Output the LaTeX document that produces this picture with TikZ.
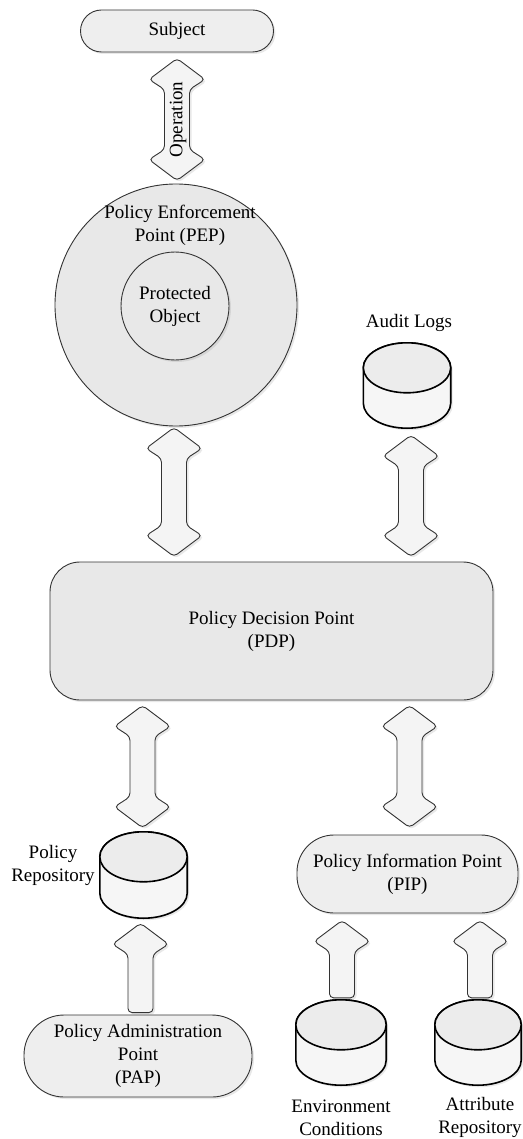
\documentclass[tikz,border=0pt]{standalone}
\usepackage{fontspec}
\setmainfont{Liberation Serif}
\usetikzlibrary{calc,shadows}
\definecolor{boxfill}{HTML}{E8E8E8}
\definecolor{pillfill}{HTML}{EEEEEE}
\definecolor{arrfill}{HTML}{F4F4F4}
\definecolor{cylbody}{HTML}{F6F6F6}
\definecolor{cyltop}{HTML}{ECECEC}
\definecolor{edge}{HTML}{333333}
\tikzset{
  txt/.style={font=\fontsize{19}{23}\selectfont, align=center, inner sep=0pt},
  shade/.style={drop shadow={opacity=0.18, shadow xshift=2pt, shadow yshift=-2pt}},
  pill/.style={txt, draw=edge, line width=0.9pt, fill=pillfill, shade},
  bigbox/.style={txt, draw=edge, line width=0.9pt, fill=boxfill, shade},
  ring/.style={circle, draw=edge, line width=0.9pt, fill=boxfill, shade, inner sep=0pt},
  cylslot/.style={rectangle, inner sep=0pt},
  cylline/.style={draw=black, line width=1.6pt},
  blockarrow/.style={draw=edge, line width=0.9pt, fill=arrfill, rounded corners=4pt, shade},
}
% vertical double block arrow between two coordinates (top, bottom)
\newcommand\vdblarrow[2]{%
  \path[blockarrow] let \p1=(#1), \p2=(#2) in
    (\x1,\y1) -- (\x1+28,\y1-21) -- (\x1+12.5,\y1-31) -- (\x1+12.5,\y2+31)
    -- (\x1+28,\y2+21) -- (\x1,\y2) -- (\x1-28,\y2+21) -- (\x1-12.5,\y2+31)
    -- (\x1-12.5,\y1-31) -- (\x1-28,\y1-21) -- cycle;}
% vertical single block arrow pointing up from #2 (bottom) to #1 (top)
\newcommand\vuparrow[2]{%
  \path[blockarrow] let \p1=(#1), \p2=(#2) in
    (\x1,\y1) -- (\x1+28,\y1-21) -- (\x1+12.5,\y1-31) -- (\x1+12.5,\y2)
    -- (\x1-12.5,\y2) -- (\x1-12.5,\y1-31) -- (\x1-28,\y1-21) -- cycle;}
% cylinder drawn into the bounds of a named slot node
\newcommand\cylinderin[1]{%
  \path[cylline, fill=cylbody, shade] let \p1=(#1.north west), \p2=(#1.south east),
      \n1={(\x2-\x1)/2} in
    (\x1,\y1-25) -- (\x1,\y2+25)
    arc[start angle=180, end angle=360, x radius=\n1, y radius=25pt]
    -- (\x2,\y1-25)
    arc[start angle=0, end angle=180, x radius=\n1, y radius=25pt] -- cycle;
  \path[cylline, fill=cyltop] let \p1=(#1.north west), \p2=(#1.south east),
      \n1={(\x2-\x1)/2} in
    ($(#1.north)+(0,-25)$) ellipse [x radius=\n1, y radius=25pt];}
\begin{document}
\begin{tikzpicture}[x=1pt, y=1pt]
\useasboundingbox (0,0) rectangle (522,-1139);

% Subject
\node[pill, rounded corners=21pt, minimum width=193pt, minimum height=42pt] (subject) at (177,-31) {Subject};

% PEP
\node[ring, minimum size=242pt] (pep) at (176,-305) {};
\node[ring, minimum size=108pt, txt] (obj) at (175,-306) {Protected\\Object};
\node[txt] (peplabel) at (180,-225) {Policy Enforcement\\Point (PEP)};

% Operation arrow
\coordinate (op1) at ($(subject.south)+(0,-6)$);
\coordinate (op2) at ($(subject.south |- pep.north)+(0,3)$);
\vdblarrow{op1}{op2}
\node[txt, rotate=90] (oplabel) at ($(op1)!0.5!(op2)+(1,0)$) {Operation};

% Audit logs
\node[txt] (auditlabel) at (409,-323) {Audit Logs};
\node[cylslot, minimum width=87pt, minimum height=85pt] (audit) at (407,-385.5) {};
\cylinderin{audit}

% PDP
\node[bigbox, rounded corners=30pt, minimum width=443pt, minimum height=138pt] (pdp) at (271.5,-631) {Policy Decision Point\\(PDP)};

% PEP <-> PDP, Audit <-> PDP
\coordinate (a1) at ($(pep.south)+(-2,-1)$);
\coordinate (a2) at ($(pep.south |- pdp.north)+(-2,5)$);
\vdblarrow{a1}{a2}
\coordinate (b1) at ($(audit.south)+(4,-7)$);
\coordinate (b2) at ($(audit.south |- pdp.north)+(4,5)$);
\vdblarrow{b1}{b2}

% Policy repository
\node[cylslot, minimum width=87pt, minimum height=86pt] (repo) at (143.5,-875) {};
\node[txt] (repolabel) at (53,-865) {Policy\\Repository};

% PIP
\node[pill, rounded corners=37pt, minimum width=221pt, minimum height=78pt] (pip) at (407.5,-874) {Policy Information Point\\(PIP)};

% PDP <-> repository, PDP <-> PIP
\coordinate (c1) at ($(repo.north |- pdp.south)+(-1,-5)$);
\coordinate (c2) at ($(repo.north)+(-1,4)$);
\vdblarrow{c1}{c2}
\coordinate (d1) at ($(pip.north |- pdp.south)+(2,-5)$);
\coordinate (d2) at ($(pip.north)+(2,7)$);
\vdblarrow{d1}{d2}
\cylinderin{repo}

% PAP
\node[pill, rounded corners=40pt, minimum width=228pt, minimum height=82pt] (pap) at (138,-1056) {Policy Administration\\Point\\(PAP)};
\coordinate (e1) at ($(repo.south)+(-3,-5)$);
\coordinate (e2) at ($(repo.south |- pap.north)+(-3,2)$);
\vuparrow{e1}{e2}

% Environment and attribute repositories
\node[cylslot, minimum width=90pt, minimum height=85pt] (env) at (341,-1042.5) {};
\node[cylslot, minimum width=86pt, minimum height=85pt] (attr) at (478,-1042.5) {};
\coordinate (f1) at ($(env.north |- pip.south)+(1,-7)$);
\coordinate (f2) at ($(env.north)+(1,2)$);
\vuparrow{f1}{f2}
\coordinate (g1) at ($(attr.north |- pip.south)+(2,-7)$);
\coordinate (g2) at ($(attr.north)+(2,2)$);
\vuparrow{g1}{g2}
\cylinderin{env}
\cylinderin{attr}
\node[txt] (envlabel) at (341,-1117.5) {Environment\\Conditions};
\node[txt] (attrlabel) at (480,-1117.5) {Attribute\\Repository};
\end{tikzpicture}
\end{document}
